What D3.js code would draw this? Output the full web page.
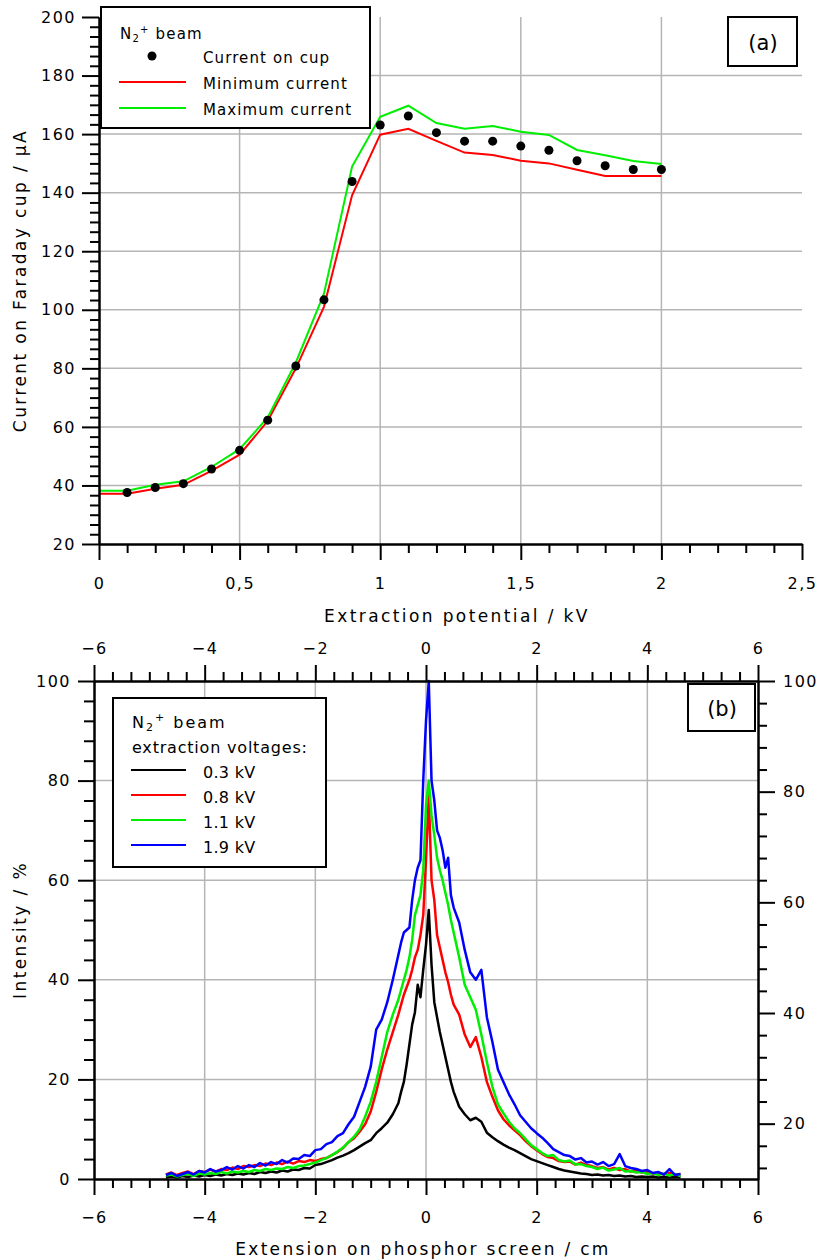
<!DOCTYPE html>
<html>
<head>
<meta charset="utf-8">
<script src="https://cdn.jsdelivr.net/npm/d3@7"></script>
<style>
  body { margin: 0; background: #fff; }
  svg { display: block; font-family: "DejaVu Sans", Verdana, sans-serif; }
</style>
</head>
<body>
<svg id="chart" width="819" height="1260"></svg>
<script>
// ---------- (a) Faraday cup current vs. extraction potential ----------
const potential = [0, 0.1, 0.2, 0.3, 0.4, 0.5, 0.6, 0.7, 0.8, 0.9, 1.0,
                   1.1, 1.2, 1.3, 1.4, 1.5, 1.6, 1.7, 1.8, 1.9, 2.0];
const minCurrent = [37.2, 37.2, 38.9, 40.2, 45.0, 50.5, 62.0, 80.0, 101.0, 139.1, 159.8,
                    161.8, 157.7, 153.7, 152.9, 150.9, 150.0, 147.8, 145.7, 145.7, 145.7];
const maxCurrent = [38.2, 38.2, 40.2, 41.4, 46.3, 52.4, 63.2, 82.0, 105.5, 148.9, 165.9,
                    169.7, 163.8, 161.8, 162.8, 160.8, 159.7, 154.6, 152.8, 150.8, 149.8];
const cupPotential = [0.1, 0.2, 0.3, 0.4, 0.5, 0.6, 0.7, 0.8, 0.9, 1.0,
                      1.1, 1.2, 1.3, 1.4, 1.5, 1.6, 1.7, 1.8, 1.9, 2.0];
const cupCurrent = [37.6, 39.3, 40.6, 45.6, 52.0, 62.3, 80.8, 103.4, 143.8, 163.1,
                    166.2, 160.5, 157.6, 157.6, 155.9, 154.5, 150.9, 149.2, 147.9, 147.9];
const potentialTicks = [0, 0.5, 1, 1.5, 2, 2.5];
const currentTicks = [20, 40, 60, 80, 100, 120, 140, 160, 180, 200];

// ---------- (b) beam profiles on the phosphor screen ----------
const extension = [
  -4.7, -4.6, -4.5, -4.4, -4.3, -4.2, -4.1, -4.0, -3.9, -3.8,
  -3.7, -3.6, -3.5, -3.4, -3.3, -3.2, -3.1, -3.0, -2.9, -2.8,
  -2.7, -2.6, -2.5, -2.4, -2.3, -2.2, -2.1, -2.0, -1.9, -1.8,
  -1.7, -1.6, -1.5, -1.4, -1.3, -1.2, -1.1, -1.0, -0.9, -0.8,
  -0.7, -0.6, -0.5,
  -0.45, -0.4, -0.35, -0.3, -0.25, -0.2, -0.15, -0.1, -0.05, 0,
  0.05, 0.1, 0.15, 0.2, 0.25, 0.3, 0.35, 0.4, 0.45,
  0.5, 0.6, 0.7, 0.8, 0.9, 1.0, 1.1, 1.2, 1.3, 1.4,
  1.5, 1.6, 1.7, 1.8, 1.9, 2.0, 2.1, 2.2, 2.3, 2.4,
  2.5, 2.6, 2.7, 2.8, 2.9, 3.0, 3.1, 3.2, 3.3, 3.4,
  3.5, 3.6, 3.7, 3.8, 3.9, 4.0, 4.1, 4.2, 4.3, 4.4,
  4.5, 4.6
];
const kv03 = [
  0.3, 0.5, 0.3, 0.6, 0.4, 0.7, 0.5, 0.8, 0.6, 0.9,
  0.7, 1.0, 0.8, 1.1, 0.9, 1.2, 1.0, 1.4, 1.2, 1.5,
  1.3, 1.7, 1.5, 1.9, 1.8, 2.2, 2.1, 2.8, 3.0, 3.4,
  3.8, 4.3, 4.7, 5.2, 5.8, 6.5, 7.2, 7.8, 9.2, 10.2,
  11.3, 13.0, 15.2,
  17.5, 19.5, 23.0, 27.0, 31.0, 33.5, 39.0, 36.5, 42.0, 47.0,
  54.0, 43.0, 35.5, 32.5, 29.5, 27.0, 24.5, 22.0, 19.5,
  17.5, 14.5, 13.0, 11.8, 12.3, 11.5, 9.3, 8.4, 7.6, 6.9,
  6.3, 5.8, 5.2, 4.6, 4.0, 3.6, 3.2, 2.8, 2.4, 2.0,
  1.7, 1.5, 1.3, 1.1, 1.0, 0.8, 0.9, 0.7, 0.8, 0.6,
  0.7, 0.5, 0.6, 0.4, 0.5, 0.4, 0.5, 0.3, 0.4, 0.3,
  0.4, 0.3
];
const kv08 = [
  0.9, 1.3, 0.8, 1.2, 1.5, 1.0, 1.6, 1.4, 1.9, 1.5,
  2.0, 1.8, 2.3, 2.0, 2.6, 2.4, 2.8, 2.6, 3.1, 2.8,
  3.3, 3.0, 3.5, 3.1, 3.6, 3.4, 3.8, 3.6, 4.0, 4.2,
  4.8, 5.4, 6.2, 7.4, 8.2, 9.5, 11.0, 13.5, 17.5, 22.0,
  26.0, 29.5, 33.0,
  35.0, 37.0, 38.5, 40.0, 42.0, 44.5, 46.0, 49.0, 53.0, 64.0,
  77.0, 60.0, 56.0, 49.0, 46.5, 44.0, 41.5, 39.5, 37.0,
  35.0, 33.0, 29.0, 26.5, 28.5, 24.5, 19.5, 16.5, 13.8, 12.0,
  10.8, 9.8, 8.8, 7.6, 6.6, 5.8, 5.0, 4.4, 4.2, 3.6,
  3.4, 3.5, 2.9, 3.3, 2.8, 2.6, 2.2, 2.4, 1.9, 2.2,
  1.8, 2.0, 1.5, 1.8, 1.3, 1.5, 1.1, 1.3, 0.9, 1.2,
  0.8, 1.0
];
const kv11 = [
  0.7, 0.9, 0.5, 0.8, 1.0, 0.6, 1.1, 0.9, 1.2, 1.0,
  1.4, 1.1, 1.5, 1.3, 1.6, 1.4, 1.8, 1.6, 2.0, 1.8,
  2.1, 2.0, 2.4, 2.2, 2.6, 2.7, 3.0, 3.3, 3.8, 4.2,
  4.8, 5.5, 6.3, 7.4, 8.5, 10.0, 12.5, 15.5, 19.5, 24.5,
  29.5, 33.0, 36.0,
  38.0, 40.0, 42.0, 44.5, 48.0, 53.0, 55.0, 57.0, 62.0, 75.0,
  80.0, 73.0, 69.0, 64.5, 62.0, 60.0, 57.5, 55.0, 52.0,
  49.5, 44.5, 39.0, 36.5, 34.0, 29.0, 23.5, 18.5, 15.0, 13.2,
  11.5, 10.2, 9.2, 8.0, 6.8, 6.0, 5.2, 4.6, 4.8, 3.8,
  3.5, 3.7, 2.9, 3.0, 2.6, 2.4, 2.0, 2.3, 1.7, 1.9,
  2.2, 1.5, 1.6, 1.3, 1.4, 1.0, 1.2, 0.8, 1.1, 0.7,
  1.0, 0.6
];
const kv19 = [
  0.8, 1.2, 0.6, 1.0, 1.4, 0.9, 1.6, 1.3, 2.0, 1.5,
  1.8, 2.4, 1.9, 2.6, 2.1, 2.8, 2.4, 3.2, 2.7, 3.4,
  3.0, 3.8, 3.3, 4.1, 4.0, 4.8, 4.6, 5.8, 6.0, 7.0,
  7.4, 8.6, 9.2, 11.0, 12.5, 15.5, 18.5, 22.5, 30.0, 32.0,
  35.5, 40.0, 45.0,
  47.5, 49.5, 50.0, 50.5, 56.0, 60.0, 62.5, 64.0, 80.0, 92.0,
  100.0, 80.0, 76.0, 70.0, 68.5, 66.0, 62.5, 64.5, 57.0,
  54.5, 51.5, 46.0, 41.5, 40.0, 42.0, 32.5, 27.5, 22.0, 19.5,
  17.0, 15.0, 12.8, 11.5, 10.2, 9.2, 8.3, 7.2, 6.0, 5.4,
  4.8, 4.6, 3.9, 4.2, 3.3, 3.5, 2.9, 3.4, 2.6, 3.0,
  5.0, 2.6, 2.2, 2.0, 1.6, 1.8, 1.2, 1.4, 0.9, 2.0,
  0.8, 1.0
];
const voltageLabels = ["0.3 kV", "0.8 kV", "1.1 kV", "1.9 kV"];
const extensionTicks = [-6, -4, -2, 0, 2, 4, 6];
const intensityTicks = [0, 20, 40, 60, 80, 100];
const rightIntensityTicks = [20, 40, 60, 80, 100];

// ---------- drawing ----------
const svg = d3.select("#chart");
const GRID = "#b5b5b5";
const FONT = '"DejaVu Sans", Verdana, sans-serif';

function styleAxis(g, size, spacing) {
  g.attr("font-family", FONT).attr("font-size", size);
  g.select(".domain").attr("stroke", "#000").attr("stroke-width", 2);
  g.selectAll(".tick line").attr("stroke", "#000").attr("stroke-width", 2);
  g.selectAll(".tick text").attr("fill", "#000").style("letter-spacing", spacing + "px");
  return g;
}
function minorAxis(axisFn, scale, values, size) {
  return axisFn(scale).tickValues(values).tickSize(size).tickSizeOuter(0).tickFormat("");
}
function minorBetween(majors, parts) {
  const out = [];
  for (let i = 0; i < majors.length - 1; i++) {
    const a = majors[i], b = majors[i + 1];
    for (let j = 1; j < parts; j++) out.push(a + (b - a) * j / parts);
  }
  return out;
}
const comma = d => String(d).replace(".", ",");

// ===== panel (a) =====
const xA = d3.scaleLinear().domain([0, 2.5]).range([99, 802]);
const yA = d3.scaleLinear().domain([20, 200]).range([544, 17]);

const gridA = svg.append("g").attr("stroke", GRID).attr("stroke-width", 1.5);
gridA.selectAll("line.v").data([0.5, 1, 1.5, 2]).join("line")
  .attr("x1", d => xA(d)).attr("x2", d => xA(d))
  .attr("y1", yA(200)).attr("y2", yA(20));
gridA.selectAll("line.h").data(currentTicks.slice(1, -1)).join("line")
  .attr("x1", xA(0)).attr("x2", xA(2.5))
  .attr("y1", d => yA(d)).attr("y2", d => yA(d));

const lineA = d3.line().x(d => xA(d[0])).y(d => yA(d[1]));
svg.append("path").datum(d3.zip(potential, minCurrent))
  .attr("d", lineA).attr("fill", "none").attr("stroke", "#ff0000").attr("stroke-width", 2);
svg.append("path").datum(d3.zip(potential, maxCurrent))
  .attr("d", lineA).attr("fill", "none").attr("stroke", "#00ee00").attr("stroke-width", 2);
svg.append("g").selectAll("circle").data(d3.zip(cupPotential, cupCurrent)).join("circle")
  .attr("cx", d => xA(d[0])).attr("cy", d => yA(d[1])).attr("r", 4.5).attr("fill", "#000");

// axes (a)
const axA_bottom = svg.append("g").attr("transform", `translate(0,${yA(20)})`);
axA_bottom.call(d3.axisBottom(xA).tickValues(potentialTicks).tickSize(16).tickSizeOuter(0)
  .tickPadding(18).tickFormat(comma));
styleAxis(axA_bottom, 16, 1.5);
const axA_bottomMinor = svg.append("g").attr("transform", `translate(0,${yA(20)})`)
  .call(minorAxis(d3.axisBottom, xA, minorBetween(potentialTicks, 5), 9));
styleAxis(axA_bottomMinor, 16, 0);

const axA_left = svg.append("g").attr("transform", `translate(${xA(0)},0)`);
axA_left.call(d3.axisLeft(yA).tickValues(currentTicks).tickSize(17).tickSizeOuter(0).tickPadding(6));
styleAxis(axA_left, 16, 1.5);
const axA_leftMinor = svg.append("g").attr("transform", `translate(${xA(0)},0)`)
  .call(minorAxis(d3.axisLeft, yA, minorBetween(currentTicks, 6), 9));
styleAxis(axA_leftMinor, 16, 0);

svg.append("text").attr("x", 457).attr("y", 622).attr("text-anchor", "middle")
  .attr("font-size", 17).style("letter-spacing", "2.4px").text("Extraction potential / kV");
svg.append("text").attr("transform", `translate(26,${(yA(20) + yA(200)) / 2}) rotate(-90)`)
  .attr("text-anchor", "middle").attr("font-size", 17).style("letter-spacing", "2.4px")
  .text("Current on Faraday cup / µA");

// legend (a)
const legA = svg.append("g");
legA.append("rect").attr("x", 101).attr("y", 7).attr("width", 269).attr("height", 121)
  .attr("fill", "#fff").attr("stroke", "#000").attr("stroke-width", 2);
const titleA = legA.append("text").attr("x", 120).attr("y", 38.5).attr("font-size", 15)
  .style("letter-spacing", "1.2px");
titleA.append("tspan").text("N");
titleA.append("tspan").attr("font-size", 10).attr("dy", 3).text("2");
titleA.append("tspan").attr("font-size", 10).attr("dy", -9).text("+");
titleA.append("tspan").attr("dy", 6).text(" beam");
legA.append("circle").attr("cx", 152).attr("cy", 56).attr("r", 4.5).attr("fill", "#000");
legA.append("line").attr("x1", 119).attr("x2", 186).attr("y1", 82).attr("y2", 82)
  .attr("stroke", "#ff0000").attr("stroke-width", 2);
legA.append("line").attr("x1", 119).attr("x2", 186).attr("y1", 108).attr("y2", 108)
  .attr("stroke", "#00ee00").attr("stroke-width", 2);
legA.selectAll("text.item").data(["Current on cup", "Minimum current", "Maximum current"]).join("text")
  .attr("x", 203).attr("y", (d, i) => 63 + i * 26).attr("font-size", 15)
  .style("letter-spacing", "1.1px").text(d => d);

legA.append("rect").attr("x", 728).attr("y", 17).attr("width", 69).attr("height", 49)
  .attr("fill", "#fff").attr("stroke", "#000").attr("stroke-width", 2);
legA.append("text").attr("x", 763).attr("y", 50).attr("text-anchor", "middle")
  .attr("font-size", 21).text("(a)");

// ===== panel (b) =====
const xB = d3.scaleLinear().domain([-6, 6]).range([94, 758]);
const yB = d3.scaleLinear().domain([0, 100]).range([1179, 681]);
const yR = d3.scaleLinear().domain([10, 100]).range([1179, 681]);

const gridB = svg.append("g").attr("stroke", GRID).attr("stroke-width", 1.5);
gridB.selectAll("line.v").data([-4, -2, 0, 2, 4]).join("line")
  .attr("x1", d => xB(d)).attr("x2", d => xB(d)).attr("y1", yB(100)).attr("y2", yB(0));
gridB.selectAll("line.h").data([20, 40, 60, 80]).join("line")
  .attr("x1", xB(-6)).attr("x2", xB(6)).attr("y1", d => yB(d)).attr("y2", d => yB(d));

const profiles = [
  { values: kv03, color: "#000000" },
  { values: kv08, color: "#ff0000" },
  { values: kv11, color: "#00ee00" },
  { values: kv19, color: "#0000ff" }
];
const lineB = d3.line().x(d => xB(d[0])).y(d => yB(d[1]));
svg.append("g").selectAll("path").data(profiles).join("path")
  .attr("d", p => lineB(d3.zip(extension, p.values)))
  .attr("fill", "none").attr("stroke", p => p.color).attr("stroke-width", 2.5)
  .attr("stroke-linejoin", "round");

// axes (b)
const axB_bottom = svg.append("g").attr("transform", `translate(0,${yB(0)})`);
axB_bottom.call(d3.axisBottom(xB).tickValues(extensionTicks).tickSize(16).tickSizeOuter(0)
  .tickPadding(17).tickFormat(d3.format("d")));
styleAxis(axB_bottom, 16, 1.5);
svg.append("g").attr("transform", `translate(0,${yB(0)})`)
  .call(minorAxis(d3.axisBottom, xB, minorBetween(extensionTicks, 6), 9))
  .call(g => styleAxis(g, 16, 0));

const axB_top = svg.append("g").attr("transform", `translate(0,${yB(100)})`);
axB_top.call(d3.axisTop(xB).tickValues(extensionTicks).tickSize(16).tickSizeOuter(0)
  .tickPadding(11).tickFormat(d3.format("d")));
styleAxis(axB_top, 16, 1.5);
svg.append("g").attr("transform", `translate(0,${yB(100)})`)
  .call(minorAxis(d3.axisTop, xB, minorBetween(extensionTicks, 6), 9))
  .call(g => styleAxis(g, 16, 0));

const axB_left = svg.append("g").attr("transform", `translate(${xB(-6)},0)`);
axB_left.call(d3.axisLeft(yB).tickValues(intensityTicks).tickSize(16).tickSizeOuter(0).tickPadding(7));
styleAxis(axB_left, 16, 1.5);
svg.append("g").attr("transform", `translate(${xB(-6)},0)`)
  .call(minorAxis(d3.axisLeft, yB, minorBetween(intensityTicks, 5), 10))
  .call(g => styleAxis(g, 16, 0));

const axB_right = svg.append("g").attr("transform", `translate(${xB(6)},0)`);
axB_right.call(d3.axisRight(yR).tickValues(rightIntensityTicks).tickSize(17).tickSizeOuter(0).tickPadding(8));
styleAxis(axB_right, 16, 1.5);
svg.append("g").attr("transform", `translate(${xB(6)},0)`)
  .call(minorAxis(d3.axisRight, yR, [12, 16].concat(minorBetween(rightIntensityTicks, 5)), 9))
  .call(g => styleAxis(g, 16, 0));

svg.append("text").attr("x", 423).attr("y", 1255).attr("text-anchor", "middle")
  .attr("font-size", 17).style("letter-spacing", "2.3px").text("Extension on phosphor screen / cm");
svg.append("text").attr("transform", `translate(26,${(yB(0) + yB(100)) / 2}) rotate(-90)`)
  .attr("text-anchor", "middle").attr("font-size", 17).style("letter-spacing", "2.4px")
  .text("Intensity / %");

// legend (b)
const legB = svg.append("g");
legB.append("rect").attr("x", 113).attr("y", 698).attr("width", 213).attr("height", 169)
  .attr("fill", "#fff").attr("stroke", "#000").attr("stroke-width", 2);
const titleB = legB.append("text").attr("x", 132).attr("y", 728).attr("font-size", 16)
  .style("letter-spacing", "2px");
titleB.append("tspan").text("N");
titleB.append("tspan").attr("font-size", 11).attr("dy", 3).text("2");
titleB.append("tspan").attr("font-size", 11).attr("dy", -10).text("+");
titleB.append("tspan").attr("dy", 7).text(" beam");
legB.append("text").attr("x", 132).attr("y", 753).attr("font-size", 16)
  .style("letter-spacing", "0.8px").text("extraction voltages:");
profiles.forEach((p, i) => {
  legB.append("line").attr("x1", 131).attr("x2", 186)
    .attr("y1", 770 + i * 25).attr("y2", 770 + i * 25)
    .attr("stroke", p.color).attr("stroke-width", 2);
  legB.append("text").attr("x", 203).attr("y", 777.5 + i * 25).attr("font-size", 16)
    .style("letter-spacing", "0.3px").text(voltageLabels[i]);
});

legB.append("rect").attr("x", 688).attr("y", 684).attr("width", 67).attr("height", 47)
  .attr("fill", "#fff").attr("stroke", "#000").attr("stroke-width", 2);
legB.append("text").attr("x", 722).attr("y", 716).attr("text-anchor", "middle")
  .attr("font-size", 21).text("(b)");
</script>
</body>
</html>
